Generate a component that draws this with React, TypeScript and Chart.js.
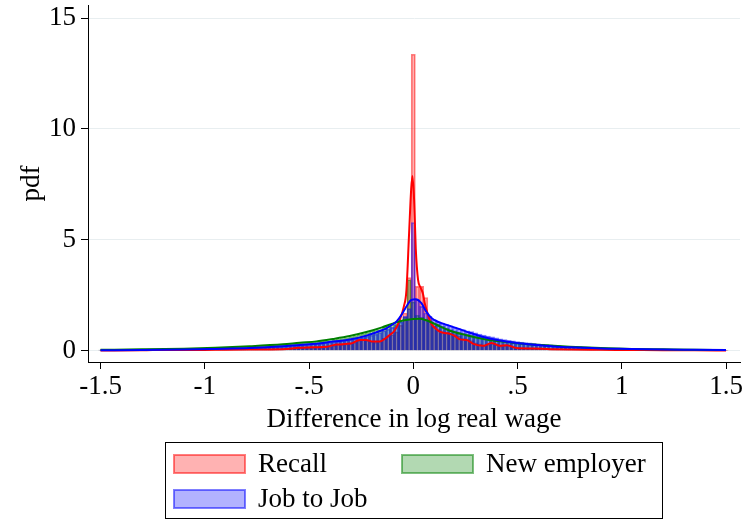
import React, { useEffect, useRef } from "react";
import { Chart, registerables } from "chart.js";

Chart.register(...registerables);

// Histogram bins: width 0.02, centred on -1.50 ... 1.50
const BIN_START = -1.5;
const BIN_WIDTH = 0.02;

const seriesNames = ["Recall", "New employer", "Job to Job"];

const recallHist = [
  0.02, 0.01, 0.02, 0.01, 0.03, 0.02, 0.01, 0.02, 0.03, 0.02,
  0.03, 0.02, 0.04, 0.05, 0.03, 0.02, 0.03, 0.04, 0.02, 0.03,
  0.04, 0.03, 0.02, 0.04, 0.05, 0.03, 0.04, 0.03, 0.05, 0.04,
  0.05, 0.04, 0.06, 0.04, 0.05, 0.06, 0.04, 0.05, 0.07, 0.05,
  0.06, 0.05, 0.07, 0.06, 0.08, 0.06, 0.09, 0.11, 0.14, 0.12,
  0.15, 0.13, 0.17, 0.14, 0.19, 0.17, 0.24, 0.3, 0.27, 0.31,
  0.34, 0.38, 0.47, 0.52, 0.45, 0.41, 0.38, 0.44, 0.56, 0.65,
  0.72, 0.85, 1.15, 1.7, 3.3,
  13.37,
  2.9, 2.9, 2.4, 1.5,
  1.1, 0.95, 0.85, 0.82, 0.78, 0.74, 0.66, 0.55, 0.5, 0.46,
  0.35, 0.3, 0.24, 0.26, 0.33, 0.3, 0.22, 0.24, 0.26, 0.17,
  0.13, 0.12, 0.11, 0.12, 0.1, 0.09, 0.08, 0.09, 0.07, 0.08,
  0.07, 0.06, 0.05, 0.06, 0.05, 0.05, 0.04, 0.05, 0.04, 0.04,
  0.04, 0.03, 0.04, 0.03, 0.03, 0.04, 0.03, 0.02, 0.03, 0.03,
  0.02, 0.03, 0.02, 0.02, 0.03, 0.02, 0.02, 0.01, 0.02, 0.02,
  0.02, 0.01, 0.02, 0.01, 0.02, 0.01, 0.01, 0.02, 0.01, 0.01, 0.01,
];

const newEmployerHist = [
  0.03, 0.04, 0.03, 0.05, 0.04, 0.04, 0.05, 0.04, 0.06, 0.05,
  0.06, 0.05, 0.07, 0.06, 0.07, 0.08, 0.07, 0.08, 0.09, 0.08,
  0.09, 0.1, 0.09, 0.11, 0.1, 0.12, 0.11, 0.13, 0.12, 0.14,
  0.14, 0.15, 0.17, 0.16, 0.18, 0.19, 0.2, 0.19, 0.22, 0.21,
  0.23, 0.25, 0.24, 0.27, 0.28, 0.3, 0.29, 0.32, 0.34, 0.33,
  0.37, 0.39, 0.38, 0.42, 0.45, 0.44, 0.49, 0.52, 0.55, 0.58,
  0.62, 0.66, 0.72, 0.76, 0.82, 0.9, 0.98, 0.95, 1.05, 1.1,
  1.18, 1.22, 1.3, 1.5, 3.2,
  2.2,
  1.6, 1.5, 1.4, 1.35,
  1.25, 1.2, 1.1, 1.02, 0.95, 0.9, 0.82, 0.78, 0.74, 0.7,
  0.65, 0.6, 0.62, 0.55, 0.52, 0.48, 0.46, 0.43, 0.4, 0.38,
  0.36, 0.33, 0.34, 0.3, 0.29, 0.28, 0.26, 0.25, 0.24, 0.22,
  0.21, 0.2, 0.19, 0.18, 0.17, 0.17, 0.15, 0.15, 0.14, 0.13,
  0.12, 0.12, 0.11, 0.1, 0.1, 0.09, 0.09, 0.08, 0.08, 0.08,
  0.07, 0.07, 0.06, 0.07, 0.06, 0.06, 0.05, 0.05, 0.05, 0.04,
  0.05, 0.04, 0.04, 0.04, 0.03, 0.04, 0.03, 0.03, 0.03, 0.03, 0.02,
];

const jobToJobHist = [
  0.02, 0.02, 0.03, 0.02, 0.03, 0.02, 0.03, 0.03, 0.02, 0.03,
  0.03, 0.04, 0.03, 0.04, 0.03, 0.04, 0.05, 0.04, 0.05, 0.04,
  0.05, 0.06, 0.05, 0.06, 0.07, 0.06, 0.07, 0.08, 0.07, 0.08,
  0.09, 0.08, 0.1, 0.09, 0.11, 0.12, 0.11, 0.12, 0.13, 0.14,
  0.15, 0.16, 0.17, 0.18, 0.19, 0.2, 0.22, 0.23, 0.24, 0.26,
  0.28, 0.3, 0.31, 0.33, 0.36, 0.38, 0.4, 0.42, 0.44, 0.47,
  0.5, 0.53, 0.56, 0.6, 0.66, 0.7, 0.75, 0.82, 0.9, 0.97,
  1.05, 1.15, 1.3, 1.55, 1.9,
  5.78,
  2.3, 2.0, 1.7, 1.55,
  1.4, 1.3, 1.25, 1.18, 1.12, 1.06, 1.0, 0.95, 0.9, 0.86,
  0.8, 0.75, 0.7, 0.66, 0.62, 0.58, 0.54, 0.5, 0.47, 0.44,
  0.41, 0.39, 0.37, 0.35, 0.33, 0.31, 0.29, 0.27, 0.26, 0.24,
  0.23, 0.21, 0.2, 0.19, 0.18, 0.17, 0.16, 0.15, 0.14, 0.13,
  0.12, 0.12, 0.11, 0.1, 0.1, 0.09, 0.09, 0.08, 0.08, 0.07,
  0.07, 0.06, 0.06, 0.06, 0.05, 0.05, 0.05, 0.04, 0.04, 0.04,
  0.04, 0.04, 0.03, 0.03, 0.03, 0.03, 0.03, 0.02, 0.02, 0.02, 0.02,
];

// Kernel density estimates
const recallDensX = [
  -1.5, -1.3, -1.25, -1.1, -0.95, -0.785, -0.625, -0.55, -0.48, -0.415,
  -0.367, -0.3, -0.257, -0.225, -0.193, -0.161, -0.13, -0.113, -0.09, -0.065,
  -0.045, -0.033, -0.02, -0.01, -0.004, 0.004, 0.012, 0.023, 0.035, 0.047,
  0.055, 0.071, 0.087, 0.11, 0.127, 0.15, 0.176, 0.2, 0.224, 0.256,
  0.288, 0.336, 0.376, 0.416, 0.448, 0.496, 0.575, 0.656, 0.75, 0.9,
  1.05, 1.2, 1.35, 1.5,
];
const recallDensY = [
  0.01, 0.02, 0.03, 0.03, 0.04, 0.05, 0.06, 0.13, 0.15, 0.18,
  0.28, 0.32, 0.48, 0.48, 0.41, 0.41, 0.58, 0.71, 0.9, 1.38,
  2.0, 2.7, 5.3, 7.3, 7.88, 6.8, 4.6, 3.19, 2.85, 2.55,
  2.14, 1.6, 1.2, 0.98, 0.86, 0.8, 0.76, 0.66, 0.51, 0.48,
  0.31, 0.22, 0.35, 0.22, 0.25, 0.12, 0.1, 0.07, 0.05, 0.04,
  0.03, 0.02, 0.02, 0.01,
];

const newEmployerDensX = [
  -1.5, -1.3, -1.1, -0.95, -0.785, -0.625, -0.545, -0.465, -0.385, -0.305,
  -0.225, -0.15, -0.1, -0.05, 0, 0.03, 0.063, 0.1, 0.127, 0.176,
  0.255, 0.336, 0.416, 0.496, 0.575, 0.656, 0.75, 0.9, 1.05, 1.2,
  1.35, 1.5,
];
const newEmployerDensY = [
  0.04, 0.06, 0.09, 0.13, 0.2, 0.29, 0.36, 0.42, 0.53, 0.66,
  0.84, 1.05, 1.22, 1.36, 1.43, 1.44, 1.37, 1.22, 1.1, 0.9,
  0.7, 0.53, 0.42, 0.34, 0.28, 0.23, 0.18, 0.12, 0.08, 0.06,
  0.04, 0.03,
];

const jobToJobDensX = [
  -1.5, -1.3, -1.1, -0.95, -0.785, -0.625, -0.545, -0.465, -0.385, -0.305,
  -0.225, -0.15, -0.129, -0.1, -0.081, -0.057, -0.033, -0.009, 0.012, 0.039,
  0.063, 0.087, 0.12, 0.176, 0.255, 0.336, 0.416, 0.496, 0.576, 0.656,
  0.752, 0.9, 1.05, 1.2, 1.35, 1.5,
];
const jobToJobDensY = [
  0.02, 0.03, 0.05, 0.08, 0.12, 0.2, 0.26, 0.31, 0.41, 0.5,
  0.68, 0.92, 1.01, 1.18, 1.31, 1.61, 1.99, 2.29, 2.32, 2.14,
  1.75, 1.48, 1.3, 1.12, 0.86, 0.62, 0.46, 0.35, 0.27, 0.21,
  0.15, 0.1, 0.08, 0.05, 0.04, 0.03,
];

const xTickValues = [-1.5, -1, -0.5, 0, 0.5, 1, 1.5];
const xTickLabels = ["-1.5", "-1", "-.5", "0", ".5", "1", "1.5"];
const yTickValues = [0, 5, 10, 15];
const yTickLabels = ["0", "5", "10", "15"];

const FONT = '"Liberation Serif", "Times New Roman", Times, serif';
const FONT_SIZE = 27;

const seriesFill = ["rgba(255,0,0,0.3)", "rgba(0,128,0,0.3)", "rgba(0,0,255,0.3)"];
const seriesEdge = ["rgba(255,0,0,0.5)", "rgba(0,128,0,0.5)", "rgba(0,0,255,0.5)"];
const lineColors = ["#ff0000", "#008000", "#0000ff"];

const toBins = (vals: number[]) =>
  vals.map((v, i) => ({ x: BIN_START + i * BIN_WIDTH, y: v }));
const toPoints = (xs: number[], ys: number[]) => xs.map((x, i) => ({ x, y: ys[i] }));

// Boxed legend below the x-axis title, two columns
const boxedLegend = {
  id: "boxedLegend",
  afterDraw(chart: any) {
    const ctx = chart.ctx as CanvasRenderingContext2D;
    ctx.save();
    ctx.fillStyle = "#ffffff";
    ctx.fillRect(165, 442, 498, 77);
    ctx.strokeStyle = "#000000";
    ctx.lineWidth = 1;
    ctx.strokeRect(165.5, 442.5, 497, 76);
    const slots = [
      { x: 174, y: 455 },
      { x: 402, y: 455 },
      { x: 174, y: 490 },
    ];
    ctx.font = `${FONT_SIZE}px ${FONT}`;
    ctx.textBaseline = "middle";
    ctx.textAlign = "left";
    seriesNames.forEach((name, i) => {
      const s = slots[i];
      ctx.fillStyle = "#ffffff";
      ctx.fillRect(s.x, s.y, 71, 18);
      ctx.fillStyle = seriesFill[i];
      ctx.fillRect(s.x, s.y, 71, 18);
      ctx.strokeStyle = seriesEdge[i];
      ctx.lineWidth = 2;
      ctx.strokeRect(s.x, s.y, 71, 18);
      ctx.fillStyle = "#000000";
      ctx.fillText(name, s.x + 84, s.y + 10);
    });
    ctx.restore();
  },
};

export default function App() {
  const canvasRef = useRef<HTMLCanvasElement | null>(null);

  useEffect(() => {
    document.body.style.margin = "0";
    const canvas = canvasRef.current;
    if (!canvas) return;

    const hists = [recallHist, newEmployerHist, jobToJobHist];
    const dens = [
      toPoints(recallDensX, recallDensY),
      toPoints(newEmployerDensX, newEmployerDensY),
      toPoints(jobToJobDensX, jobToJobDensY),
    ];

    const barSets = hists.map((h, i) => ({
      type: "bar" as const,
      label: seriesNames[i],
      data: toBins(h),
      backgroundColor: seriesFill[i],
      borderColor: seriesEdge[i],
      borderWidth: 1,
      barPercentage: 1,
      categoryPercentage: 1,
      grouped: false,
      order: 6 - i,
    }));
    const lineSets = dens.map((d, i) => ({
      type: "line" as const,
      label: seriesNames[i] + " density",
      data: d,
      borderColor: lineColors[i],
      borderWidth: 2,
      pointRadius: 0,
      fill: false,
      cubicInterpolationMode: "monotone" as const,
      order: 3 - i,
    }));

    const chart = new Chart(canvas, {
      type: "bar",
      data: { datasets: [...barSets, ...lineSets] as any },
      options: {
        animation: false,
        responsive: false,
        devicePixelRatio: 1,
        layout: { padding: { top: 5, right: 4, left: 0, bottom: 0 } },
        font: { family: FONT, size: FONT_SIZE },
        plugins: {
          legend: { display: false },
          tooltip: { enabled: false },
        },
        scales: {
          x: {
            type: "linear",
            offset: false,
            min: -1.56,
            max: 1.567,
            afterBuildTicks: (scale: any) => {
              scale.ticks = xTickValues.map((v) => ({ value: v }));
            },
            afterFit: (scale: any) => {
              scale.height = 158;
              scale.paddingLeft = 0;
              scale.paddingRight = 0;
            },
            ticks: {
              color: "#000",
              font: { family: FONT, size: FONT_SIZE },
              padding: 2,
              maxRotation: 0,
              autoSkip: false,
              callback: (v: any) => {
                const k = xTickValues.indexOf(Number(v));
                return k >= 0 ? xTickLabels[k] : "";
              },
            },
            grid: {
              offset: false,
              drawOnChartArea: false,
              drawTicks: true,
              tickLength: 7,
              tickColor: "#000",
              tickWidth: 1,
            },
            border: { display: true, color: "#000", width: 1 },
            title: {
              display: true,
              text: "Difference in log real wage",
              color: "#000",
              font: { family: FONT, size: FONT_SIZE },
              padding: { top: 0, bottom: 84 },
            },
          },
          y: {
            type: "linear",
            min: -0.51,
            max: 15.59,
            afterBuildTicks: (scale: any) => {
              scale.ticks = yTickValues.map((v) => ({ value: v }));
            },
            afterFit: (scale: any) => {
              scale.width = 88;
              scale.paddingTop = 0;
              scale.paddingBottom = 0;
            },
            ticks: {
              color: "#000",
              font: { family: FONT, size: FONT_SIZE },
              padding: 5,
              autoSkip: false,
              callback: (v: any) => {
                const k = yTickValues.indexOf(Number(v));
                return k >= 0 ? yTickLabels[k] : "";
              },
            },
            grid: {
              color: "#e8eef0",
              lineWidth: 1,
              drawTicks: true,
              tickLength: 7,
              tickColor: "#000",
              tickWidth: 1,
            },
            border: { display: true, color: "#000", width: 1 },
            title: {
              display: true,
              text: "pdf",
              color: "#000",
              font: { family: FONT, size: FONT_SIZE },
              padding: { top: 16, bottom: 0 },
            },
          },
        },
      } as any,
      plugins: [boxedLegend],
    });

    return () => chart.destroy();
  }, []);

  return (
    <div style={{ position: "absolute", left: 0, top: 0, width: 744, height: 520, background: "#fff" }}>
      <canvas ref={canvasRef} width={744} height={520} />
    </div>
  );
}
